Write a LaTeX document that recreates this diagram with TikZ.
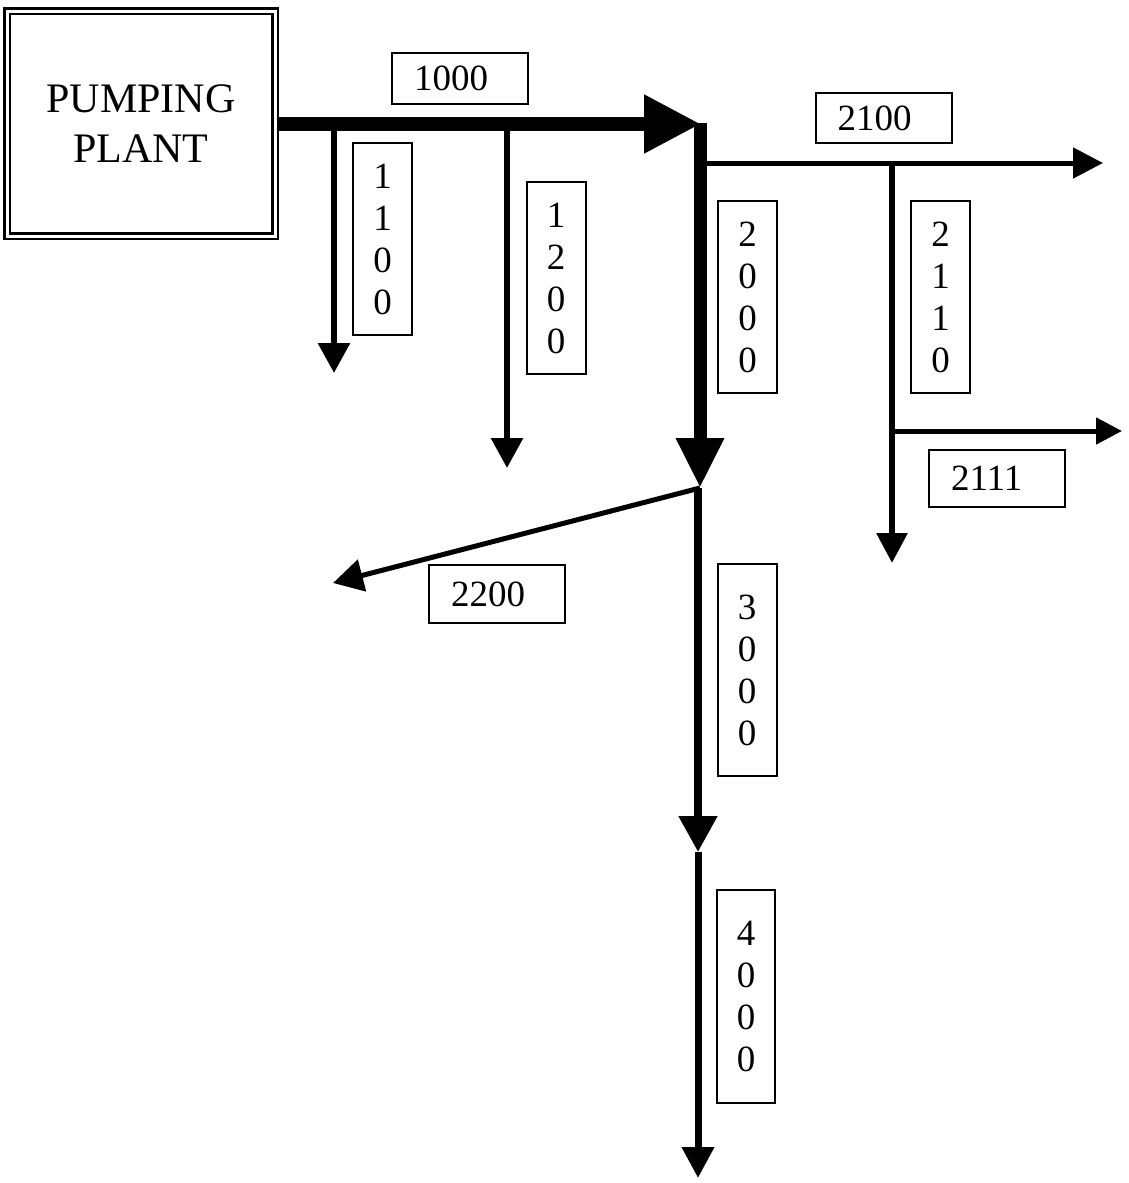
\documentclass[tikz,border=0pt]{standalone}
\usepackage{fontspec}
\setmainfont{Liberation Serif}
\usetikzlibrary{arrows.meta}
\begin{document}
\begin{tikzpicture}[x=1pt,y=-1pt,
  lbl/.style={draw, line width=2pt, inner sep=0pt, font=\fontsize{37}{42}\selectfont},
  hlbl/.style={lbl, text width=92pt, align=left, inner xsep=22pt, minimum height=#1},
  vlbl/.style={lbl, align=center, minimum width=59pt, minimum height=#1},
  pipe/.style args={#1/#2/#3}{line width=#1pt, -{Triangle[length=#2pt 0 0, width=#3pt 0 0]}}
]
\useasboundingbox (0,0) rectangle (1128,1183);
\fill[white] (0,0) rectangle (1128,1183);

% pumping plant
\node[draw, double, line width=2.2pt, double distance=3pt, minimum width=268pt, minimum height=225pt,
      inner sep=0pt, outer sep=3.7pt, align=center, font=\fontsize{42}{50}\selectfont]
      (pp) at (141,123.5) {PUMPING\\PLANT};

% junction coordinates
\coordinate (j1) at (701,124);
\coordinate (b1100) at (334,124);
\coordinate (e1100) at (334,373);
\coordinate (b1200) at (507,124);
\coordinate (e1200) at (507,468);
\coordinate (top2000) at (700,123);
\coordinate (j2) at (700,488);
\coordinate (b2100) at (700,163);
\coordinate (e2100) at (1103,163);
\coordinate (b2110) at (892,163);
\coordinate (e2110) at (892,563);
\coordinate (b2111) at (892,431);
\coordinate (e2111) at (1122,431);
\coordinate (e2200) at (333,583);
\coordinate (j3) at (698,852);
\coordinate (e4000) at (698,1178);

% connectors
\draw[pipe=6/30/31] (b1100) -- (e1100);
\draw[pipe=6/30/31] (b1200) -- (e1200);
\draw[pipe=14/57/55] (pp.east |- j1) -- (j1);
\draw[pipe=5/30/30] (b2100) -- (e2100);
\draw[pipe=6/30/30] (b2110) -- (e2110);
\draw[pipe=5/26/26] (b2111) -- (e2111);
\draw[pipe=13/50/45] (top2000) -- (j2);
\draw[pipe=5/30/32] (j2) -- (e2200);
\draw[pipe=8/36/37] (j2 -| j3) -- (j3);
\draw[pipe=7/31/31] (j3) -- (e4000);

% labels
\node[hlbl=51pt] (l1000) at (460,78.5) {1000};
\node[hlbl=50pt] (l2100) at (883.5,118) {2100};
\node[hlbl=57pt] (l2111) at (997,478.5) {2111};
\node[hlbl=58pt] (l2200) at (497,594) {2200};
\node[vlbl=192pt] (l1100) at (382.5,239) {1\\1\\0\\0};
\node[vlbl=192pt] (l1200) at (556,278) {1\\2\\0\\0};
\node[vlbl=192pt] (l2000) at (747.5,297) {2\\0\\0\\0};
\node[vlbl=192pt] (l2110) at (940.5,297) {2\\1\\1\\0};
\node[vlbl=212pt] (l3000) at (747,670) {3\\0\\0\\0};
\node[vlbl=213pt, minimum width=58pt] (l4000) at (746,996.5) {4\\0\\0\\0};
\end{tikzpicture}
\end{document}
